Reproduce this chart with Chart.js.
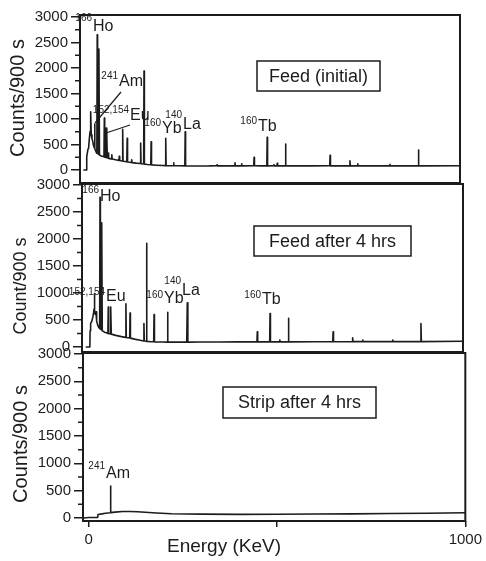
<!DOCTYPE html>
<html>
<head>
<meta charset="utf-8">
<script src="https://cdn.jsdelivr.net/npm/chart.js@4"></script>
<style>
html,body{margin:0;padding:0;background:#fff;}
#wrap{position:relative;width:486px;height:561px;}
#wrap canvas{position:absolute;left:0;top:0;}
</style>
</head>
<body>
<div id="wrap">
  <canvas id="feedInitial" width="486" height="561"></canvas>
  <canvas id="feedAfter" width="486" height="561"></canvas>
  <canvas id="strip" width="486" height="561"></canvas>
</div>
<script>
// spectra (energy in keV, counts per 900 s)
const feedInitialEnergy = [-6,2,3,6,8,10,12,13,14,15,17,19,21,23,24,25,27,29,30,31,32,34,35.5,37,42,49,50,51,54,55,56,57,58,60,61,62,68,70,71,80,89,90,91,98,99,100,110,111,112,122,123,124,135,146,147,148,155,156,157,165,174,175,176,190,205,213,214,215,225,234,235,236,250,265,266,267,300,330,350,351,352,380,398,399,400,416,417,418,449,450,451,470,484,485,486,502,503,504,511,512,513,533,534,535,600,652,653,654,705,706,707,726,727,728,760,812,813,814,850,888,889,890,1000];
const feedInitialCounts = [0,0,260,400,430,620,760,700,1140,690,620,560,480,440,900,420,370,340,330,2650,330,310,2370,295,275,258,1020,252,245,820,242,700,238,232,330,228,218,300,214,200,188,270,186,176,800,172,160,620,158,146,200,144,134,126,530,124,118,1940,116,108,102,555,100,94,88,86,620,86,84,84,140,84,82,80,750,80,78,80,85,100,80,80,80,140,80,80,120,80,82,250,82,80,80,640,80,82,105,80,80,130,80,80,510,80,80,82,290,80,80,180,80,80,120,80,80,80,110,80,80,80,390,80,82];

const feedAfterEnergy = [-5,6,6.5,8,11,14,16,17,18,19,21,22.3,24,27,30,32,33,34,36,37.5,39,45,50,54,55,56,60,61.5,63,75,90,101,102,103,112,113,114,125,140,149,150,151,156,157,158,170,176,177,178,200,212,213,214,240,264,265.5,267,300,350,400,451,452,453,485,486,487,511,512,513,534,535,536,600,653,654,655,705,706,707,732,733,734,812,813,814,887,888,889,1000];
const feedAfterCounts = [0,0,300,440,470,560,640,700,990,620,600,650,480,400,360,340,2770,330,320,2300,300,275,262,250,740,248,242,740,238,215,192,178,800,176,166,630,164,145,126,112,436,110,106,1920,104,98,96,600,95,92,90,640,90,90,90,820,90,92,92,95,95,280,95,95,620,95,95,130,95,95,530,95,98,98,280,98,100,170,100,100,130,100,100,130,100,100,436,100,105];

const stripEnergy = [-13,0,24,25,35,45,57,58,59,70,90,110,130,150,180,220,300,400,500,600,700,800,900,1000];
const stripCounts = [0,8,12,65,75,88,95,584,98,108,118,120,115,105,92,78,70,66,68,72,76,82,88,95];

const yTickValues = [0,500,1000,1500,2000,2500,3000];
const yMinorTicks = [250,750,1250,1750,2250,2750];
const xTickValues = [0,500,1000];
const xTickLabels = ['0','','1000'];

const INK = '#1c1c1c';
const FONT = "'Liberation Sans', Arial, sans-serif";
Chart.defaults.font.family = FONT;
Chart.defaults.color = INK;

const panels = [
  {
    id: 'feedInitial', energy: feedInitialEnergy, counts: feedInitialCounts,
    area: {left: 80, right: 460, top: 15, bottom: 183}, yMin: -255, yMax: 3039, showX: false,
    title: {text: 'Counts/900 s', x: 18.5, y: 98, size: 20},
    box: {x: 257, y: 61, w: 123, h: 30, text: 'Feed (initial)'},
    labels: [
      {sup: '166', text: 'Ho', x: 93, y: 27, supY: 18},
      {sup: '241', text: 'Am', x: 119, y: 82, supY: 76},
      {sup: '152,154', text: 'Eu', x: 130, y: 116, supY: 110},
      {sup: '160', text: 'Yb', x: 162, y: 129, supY: 123},
      {sup: '140', text: 'La', x: 183, y: 125, supY: 115},
      {sup: '160', text: 'Tb', x: 258, y: 127, supY: 121}
    ],
    pointers: [[121, 92, 95, 123], [130, 125, 106, 133]]
  },
  {
    id: 'feedAfter', energy: feedAfterEnergy, counts: feedAfterCounts,
    area: {left: 82, right: 463, top: 184, bottom: 352}, yMin: -93, yMax: 3018, showX: false,
    title: {text: 'Count/900 s', x: 21, y: 286, size: 18},
    box: {x: 254, y: 226, w: 157, h: 30, text: 'Feed after 4 hrs'},
    labels: [
      {sup: '166', text: 'Ho', x: 100, y: 197, supY: 190},
      {sup: '152,154', text: 'Eu', x: 106, y: 297, supY: 292},
      {sup: '160', text: 'Yb', x: 164, y: 299, supY: 295},
      {sup: '140', text: 'La', x: 182, y: 291, supY: 281},
      {sup: '160', text: 'Tb', x: 262, y: 300, supY: 295}
    ],
    pointers: []
  },
  {
    id: 'strip', energy: stripEnergy, counts: stripCounts,
    area: {left: 83, right: 467, top: 353, bottom: 521}, yMin: -55, yMax: 3018, showX: true,
    title: {text: 'Counts/900 s', x: 21, y: 444, size: 20},
    box: {x: 223, y: 387, w: 153, h: 31, text: 'Strip after 4 hrs'},
    labels: [
      {sup: '241', text: 'Am', x: 106, y: 474, supY: 466}
    ],
    pointers: [],
    xTitle: {text: 'Energy (KeV)', x: 224, y: 547}
  }
];

function decorPlugin(p){
  return {
    id: 'decor_' + p.id,
    afterDraw(chart){
      const {ctx, chartArea: a} = chart;
      const y = chart.scales.y;
      ctx.save();
      ctx.strokeStyle = INK;
      ctx.fillStyle = INK;
      ctx.lineWidth = 2;
      ctx.strokeRect(a.left, a.top, a.right - a.left, a.bottom - a.top);

      ctx.lineWidth = 1.5;
      ctx.beginPath();
      yMinorTicks.forEach(v => {
        const py = y.getPixelForValue(v);
        ctx.moveTo(a.left - 5, py);
        ctx.lineTo(a.left, py);
      });
      ctx.stroke();

      // boxed panel caption
      ctx.lineWidth = 1.5;
      ctx.strokeRect(p.box.x, p.box.y, p.box.w, p.box.h);
      ctx.font = '18px ' + FONT;
      ctx.textAlign = 'center';
      ctx.textBaseline = 'middle';
      ctx.fillText(p.box.text, p.box.x + p.box.w / 2, p.box.y + p.box.h / 2 + 1);

      // isotope labels
      p.labels.forEach(l => {
        ctx.textAlign = 'left';
        ctx.font = '16px ' + FONT;
        ctx.fillText(l.text, l.x, l.y);
        ctx.textAlign = 'right';
        ctx.font = '10px ' + FONT;
        ctx.fillText(l.sup, l.x - 1, l.supY);
      });

      ctx.lineWidth = 1.2;
      p.pointers.forEach(([x1, y1, x2, y2]) => {
        ctx.beginPath();
        ctx.moveTo(x1, y1);
        ctx.lineTo(x2, y2);
        ctx.stroke();
      });

      // axis titles
      ctx.textAlign = 'center';
      ctx.font = p.title.size + 'px ' + FONT;
      ctx.save();
      ctx.translate(p.title.x, p.title.y);
      ctx.rotate(-Math.PI / 2);
      ctx.fillText(p.title.text, 0, 0);
      ctx.restore();
      if(p.xTitle){
        ctx.font = '19px ' + FONT;
        ctx.fillText(p.xTitle.text, p.xTitle.x, p.xTitle.y);
      }
      ctx.restore();
    }
  };
}

panels.forEach(p => {
  const xHeight = p.showX ? 40 : 0;
  new Chart(document.getElementById(p.id), {
    type: 'line',
    data: {
      datasets: [{
        data: p.energy.map((e, i) => ({x: e, y: p.counts[i]})),
        borderColor: INK,
        borderWidth: 1.6,
        borderJoinStyle: 'round',
        pointRadius: 0,
        tension: 0,
        fill: false
      }]
    },
    options: {
      responsive: false,
      animation: false,
      layout: {
        padding: {
          left: 0,
          top: p.area.top,
          right: 486 - p.area.right,
          bottom: 561 - p.area.bottom - xHeight
        }
      },
      plugins: {legend: {display: false}, tooltip: {enabled: false}},
      scales: {
        x: {
          type: 'linear',
          min: -15,
          max: 1000,
          display: p.showX,
          afterBuildTicks: s => { s.ticks = xTickValues.map(v => ({value: v})); },
          afterFit: s => { if(p.showX) s.height = xHeight; },
          ticks: {
            callback: v => xTickLabels[xTickValues.indexOf(v)],
            font: {size: 15},
            color: INK,
            padding: 4,
            maxRotation: 0,
            autoSkip: false
          },
          grid: {drawOnChartArea: false, drawTicks: true, tickLength: 6, color: INK, lineWidth: 1.5},
          border: {display: false}
        },
        y: {
          type: 'linear',
          min: p.yMin,
          max: p.yMax,
          afterBuildTicks: s => { s.ticks = yTickValues.map(v => ({value: v})); },
          afterFit: s => { s.width = p.area.left; },
          ticks: {
            callback: v => String(v),
            font: {size: 15},
            color: INK,
            padding: 3,
            autoSkip: false
          },
          grid: {drawOnChartArea: false, drawTicks: true, tickLength: 9, color: INK, lineWidth: 1.5},
          border: {display: false}
        }
      }
    },
    plugins: [decorPlugin(p)]
  });
});
</script>
</body>
</html>
